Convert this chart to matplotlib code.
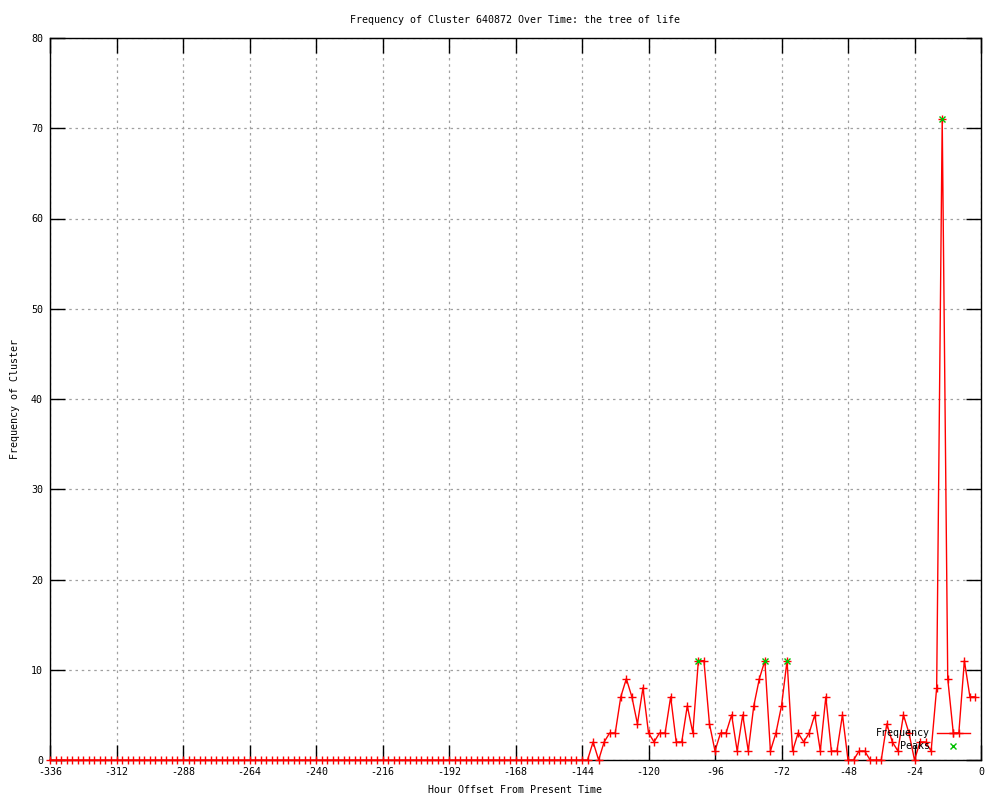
import matplotlib
matplotlib.use("Agg")
import matplotlib.pyplot as plt
import numpy as np

title = "Frequency of Cluster 640872 Over Time: the tree of life"
xlabel = "Hour Offset From Present Time"
ylabel = "Frequency of Cluster"

hours = list(range(-336, 0, 2))
freq = [
    0, 0, 0, 0, 0, 0, 0, 0, 0, 0, 0, 0, 0, 0,
    0, 0, 0, 0, 0, 0, 0, 0, 0, 0, 0, 0, 0, 0,
    0, 0, 0, 0, 0, 0, 0, 0, 0, 0, 0, 0, 0, 0,
    0, 0, 0, 0, 0, 0, 0, 0, 0, 0, 0, 0, 0, 0,
    0, 0, 0, 0, 0, 0, 0, 0, 0, 0, 0, 0, 0, 0,
    0, 0, 0, 0, 0, 0, 0, 0, 0, 0, 0, 0, 0, 0,
    0, 0, 0, 0, 0, 0, 0, 0, 0, 0, 0, 0, 0, 0,
    2, 0, 2, 3, 3, 7, 9, 7, 4, 8,          # -140 .. -122
    3, 2, 3, 3, 7, 2, 2, 6, 3, 11,         # -120 .. -102
    11, 4, 1, 3, 3, 5, 1, 5, 1, 6,         # -100 .. -82
    9, 11, 1, 3, 6, 11, 1, 3, 2, 3,        # -80 .. -62
    5, 1, 7, 1, 1, 5, 0, 0, 1, 1,          # -60 .. -42
    0, 0, 0, 4, 2, 1, 5, 3, 0, 2,          # -40 .. -22
    2, 1, 8, 71, 9, 3, 3, 11, 7, 7,        # -20 .. -2
]
peak_hours = [-102, -78, -70, -14]
peak_values = [11, 11, 11, 71]

xticks = list(range(-336, 1, 24))
yticks = list(range(0, 81, 10))

plt.rcParams['font.family'] = ['DejaVu Sans Mono']
fs = 7.2

fig = plt.figure(figsize=(10, 8), dpi=100)
ax = fig.add_axes([0.050, 0.050, 0.931, 0.9025])

ax.plot(hours, freq, color='#ff0000', lw=1.0, marker='+', ms=6, mew=1.0,
        clip_on=False, zorder=3)
ax.plot(peak_hours, peak_values, color='#00c000', lw=0, marker='x', ms=5, mew=1.0,
        clip_on=False, zorder=4)

ax.set_xlim(-336, 0)
ax.set_ylim(0, 80)
ax.set_xticks(xticks)
ax.set_yticks(yticks)
ax.set_xticklabels([str(t) for t in xticks], fontsize=fs)
ax.set_yticklabels([str(t) for t in yticks], fontsize=fs)
ax.tick_params(direction='in', length=11, width=1, top=True, right=True, pad=5)
ax.grid(True, color='#a0a0a0', linestyle=(0, (2, 3)), linewidth=0.9)
for s in ax.spines.values():
    s.set_linewidth(1.0)
    s.set_color('black')

ax.set_title(title, fontsize=fs, pad=11)
ax.set_xlabel(xlabel, fontsize=fs, labelpad=6)
ax.set_ylabel(ylabel, fontsize=fs, labelpad=8)

# legend (gnuplot style: right-aligned text, sample to the right)
tr = ax.transAxes
ax.text(0.945, 0.0374, "Frequency", transform=tr, fontsize=fs, ha='right', va='center', zorder=5)
ax.text(0.945, 0.0194, "Peaks", transform=tr, fontsize=fs, ha='right', va='center', zorder=5)
ax.plot([0.953, 0.988], [0.0374, 0.0374], transform=tr, color='#ff0000', lw=1.0, clip_on=False, zorder=5)
ax.plot([0.970], [0.0374], transform=tr, color='#ff0000', marker='+', ms=6, mew=1.0, clip_on=False, zorder=5)
ax.plot([0.970], [0.0194], transform=tr, color='#00c000', marker='x', ms=5, mew=1.0, clip_on=False, zorder=5)

fig.savefig("out.png", dpi=100)
